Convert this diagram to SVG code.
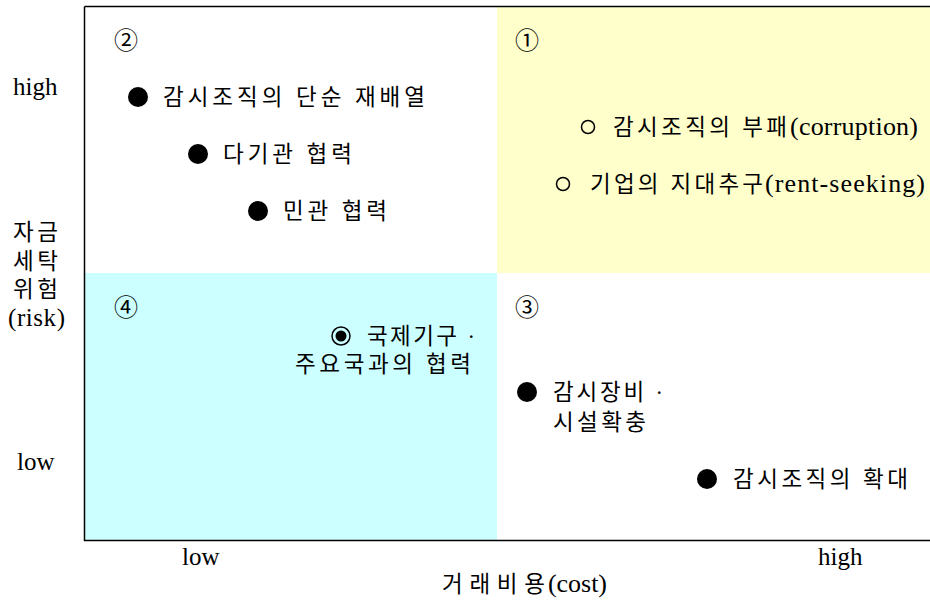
<svg xmlns="http://www.w3.org/2000/svg" width="930" height="600" viewBox="0 0 930 600">
<style>
.t{font-family:"Liberation Serif","Noto Sans CJK KR",serif;font-size:22.5px;fill:#000}
.l{font-family:"Liberation Serif",serif;font-size:26px;fill:#000}
.ax{font-family:"Liberation Serif","Noto Sans CJK KR",serif;font-size:25px;fill:#000}
.num{font-family:"Noto Sans CJK KR","DejaVu Sans",sans-serif;font-size:24px;fill:#000}
.dot{fill:#000}
.ring{fill:none;stroke:#000;stroke-width:1.5}
.frame{fill:none;stroke:#000;stroke-width:1.5}
</style>
<rect x="0" y="0" width="930" height="600" fill="#fff"/>
<g id="q1">
<rect x="497" y="7" width="433" height="266" fill="#FFFFCC"/>
<text class="num" x="515" y="49">①</text>
</g>
<g id="q4">
<rect x="85" y="273" width="412" height="267" fill="#CCFFFF"/>
<text class="num" x="114" y="316">④</text>
</g>
<g id="q2"><text class="num" x="114" y="49">②</text></g>
<g id="q3"><text class="num" x="515" y="316">③</text></g>
<g id="frame">
<path class="frame" d="M84.5 6.5H930M84.5 6.5V540.5H930"/>
</g>
<g id="item-reorg">
<circle class="dot" cx="138" cy="97" r="10"/>
<text class="t" x="163" y="105" textLength="262" lengthAdjust="spacing">감시조직의 단순 재배열</text>
</g>
<g id="item-multi">
<circle class="dot" cx="198" cy="154" r="10"/>
<text class="t" x="223" y="162" textLength="129" lengthAdjust="spacing">다기관 협력</text>
</g>
<g id="item-public-private">
<circle class="dot" cx="258" cy="211" r="10"/>
<text class="t" x="283" y="219" textLength="104" lengthAdjust="spacing">민관 협력</text>
</g>
<g id="item-corruption">
<circle class="ring" cx="588" cy="127" r="6.5"/>
<text class="t" x="613" y="135" textLength="174" lengthAdjust="spacing">감시조직의 부패</text>
<text class="l" x="790" y="135" textLength="128" lengthAdjust="spacing">(corruption)</text>
</g>
<g id="item-rent">
<circle class="ring" cx="563" cy="184" r="6.5"/>
<text class="t" x="590" y="192" textLength="173" lengthAdjust="spacing">기업의 지대추구</text>
<text class="l" x="765" y="192" textLength="160" lengthAdjust="spacing">(rent-seeking)</text>
</g>
<g id="item-intl">
<circle class="ring" cx="341" cy="336" r="9"/>
<circle class="dot" cx="341" cy="336" r="5.5"/>
<text class="t" x="367" y="344" textLength="108" lengthAdjust="spacing">국제기구 ·</text>
<text class="t" x="295" y="372" textLength="176" lengthAdjust="spacing">주요국과의 협력</text>
</g>
<g id="item-equip">
<circle class="dot" cx="527" cy="392" r="10"/>
<text class="t" x="553" y="400" textLength="110" lengthAdjust="spacing">감시장비 ·</text>
<text class="t" x="553" y="430" textLength="93" lengthAdjust="spacing">시설확충</text>
</g>
<g id="item-expand">
<circle class="dot" cx="707" cy="479" r="10"/>
<text class="t" x="733" y="487" textLength="175" lengthAdjust="spacing">감시조직의 확대</text>
</g>
<g id="y-axis">
<text class="ax" x="13" y="95">high</text>
<text class="t" x="13" y="240" textLength="45" lengthAdjust="spacing">자금</text>
<text class="t" x="13" y="269" textLength="45" lengthAdjust="spacing">세탁</text>
<text class="t" x="13" y="297" textLength="45" lengthAdjust="spacing">위험</text>
<text class="ax" x="8" y="326" textLength="57" lengthAdjust="spacing">(risk)</text>
<text class="ax" x="17" y="470">low</text>
</g>
<g id="x-axis">
<text class="ax" x="182" y="565">low</text>
<text class="ax" x="818" y="565">high</text>
<text class="t" x="442" y="592" textLength="103" lengthAdjust="spacing">거래비용</text>
<text class="l" x="548" y="592" textLength="59" lengthAdjust="spacing">(cost)</text>
</g>
<g id="connectors"></g>
</svg>
